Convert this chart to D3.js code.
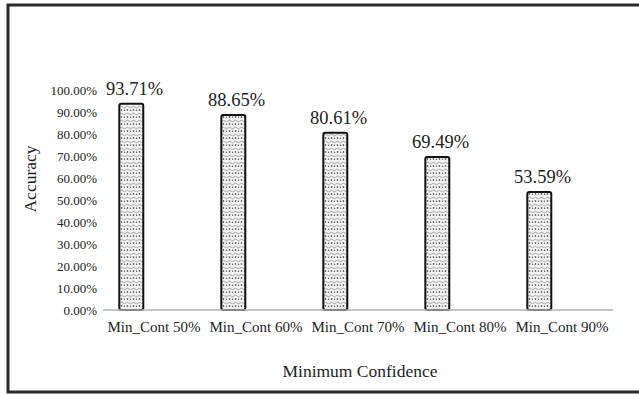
<!DOCTYPE html>
<html>
<head>
<meta charset="utf-8">
<script src="https://cdn.jsdelivr.net/npm/d3@7/dist/d3.min.js"></script>
<style>
  body { margin: 0; background: #fff; }
</style>
</head>
<body>
<svg id="chart" width="639" height="396"></svg>
<script>
// chart data
let categories = ["Min_Cont 50%", "Min_Cont 60%", "Min_Cont 70%", "Min_Cont 80%", "Min_Cont 90%"]
let accuracy = [0.9371, 0.8865, 0.8061, 0.6949, 0.5359]
let y_ticks = [0, 0.1, 0.2, 0.3, 0.4, 0.5, 0.6, 0.7, 0.8, 0.9, 1.0]

let serif = "Liberation Serif"
let svg = d3.select("#chart")
let margin = {top: 90, bottom: 310, left: 103, right: 613}

// outer frame (right side runs off the picture)
svg.append("rect")
  .attr("x", 8).attr("y", 5)
  .attr("width", 660).attr("height", 387)
  .attr("fill", "none")
  .attr("stroke", "#2a2a2a")
  .attr("stroke-width", 3)

// bar fill pattern
let defs = svg.append("defs")
let pat = defs.append("pattern")
  .attr("id", "dots")
  .attr("patternUnits", "userSpaceOnUse")
  .attr("width", 6).attr("height", 7)
pat.append("rect").attr("width", 6).attr("height", 7).attr("fill", "#f4f4f4")
pat.append("path")
  .attr("d", "M0,2 Q1.5,0.5 3,2 T6,2")
  .attr("fill", "none").attr("stroke", "#9a9a9a").attr("stroke-width", 0.9)
pat.append("circle").attr("cx", 1.5).attr("cy", 5).attr("r", 0.8).attr("fill", "#222")
pat.append("circle").attr("cx", 4.5).attr("cy", 5.3).attr("r", 0.7).attr("fill", "#555")

let x = d3.scaleBand()
  .domain(categories)
  .range([margin.left, margin.right])

let y = d3.scaleLinear()
  .domain([0, 1])
  .range([margin.bottom, margin.top])

let bw = x.bandwidth()

// bars (shifted left inside each band, as in the original)
svg.append("g").selectAll("rect")
  .data(accuracy).enter()
  .append("rect")
  .attr("x", (d, i) => x(categories[i]) + bw * 0.16)
  .attr("y", d => y(d))
  .attr("width", bw * 0.235)
  .attr("height", d => y(0) - y(d))
  .attr("rx", 2)
  .attr("fill", "url(#dots)")
  .attr("stroke", "#111")
  .attr("stroke-width", 2)

// baseline
svg.append("line")
  .attr("x1", margin.left).attr("x2", margin.right)
  .attr("y1", y(0)).attr("y2", y(0))
  .attr("stroke", "#b0b0b0")
  .attr("stroke-width", 1.5)

// value labels
svg.append("g").selectAll("text")
  .data(accuracy).enter()
  .append("text")
  .attr("x", (d, i) => x(categories[i]) + bw * 0.31)
  .attr("y", d => y(d) - 9)
  .attr("text-anchor", "middle")
  .attr("font-family", serif)
  .attr("font-size", 18.5)
  .attr("fill", "#222")
  .text(d => (d * 100).toFixed(2) + "%")

// y tick labels
svg.append("g").selectAll("text")
  .data(y_ticks).enter()
  .append("text")
  .attr("x", 97)
  .attr("y", d => y(d) + 4.5)
  .attr("text-anchor", "end")
  .attr("font-family", serif)
  .attr("font-size", 13)
  .attr("fill", "#222")
  .text(d => (d * 100).toFixed(2) + "%")

// x category labels
svg.append("g").selectAll("text")
  .data(categories).enter()
  .append("text")
  .attr("x", d => x(d) + bw / 2)
  .attr("y", 332)
  .attr("text-anchor", "middle")
  .attr("font-family", serif)
  .attr("font-size", 15)
  .attr("fill", "#222")
  .text(d => d)

// axis titles
svg.append("text")
  .attr("x", 360).attr("y", 377)
  .attr("text-anchor", "middle")
  .attr("font-family", serif)
  .attr("font-size", 17.5)
  .attr("fill", "#222")
  .text("Minimum Confidence")

svg.append("text")
  .attr("transform", "translate(36, 179) rotate(-90)")
  .attr("text-anchor", "middle")
  .attr("font-family", serif)
  .attr("font-size", 17.5)
  .attr("fill", "#222")
  .text("Accuracy")
</script>
</body>
</html>
